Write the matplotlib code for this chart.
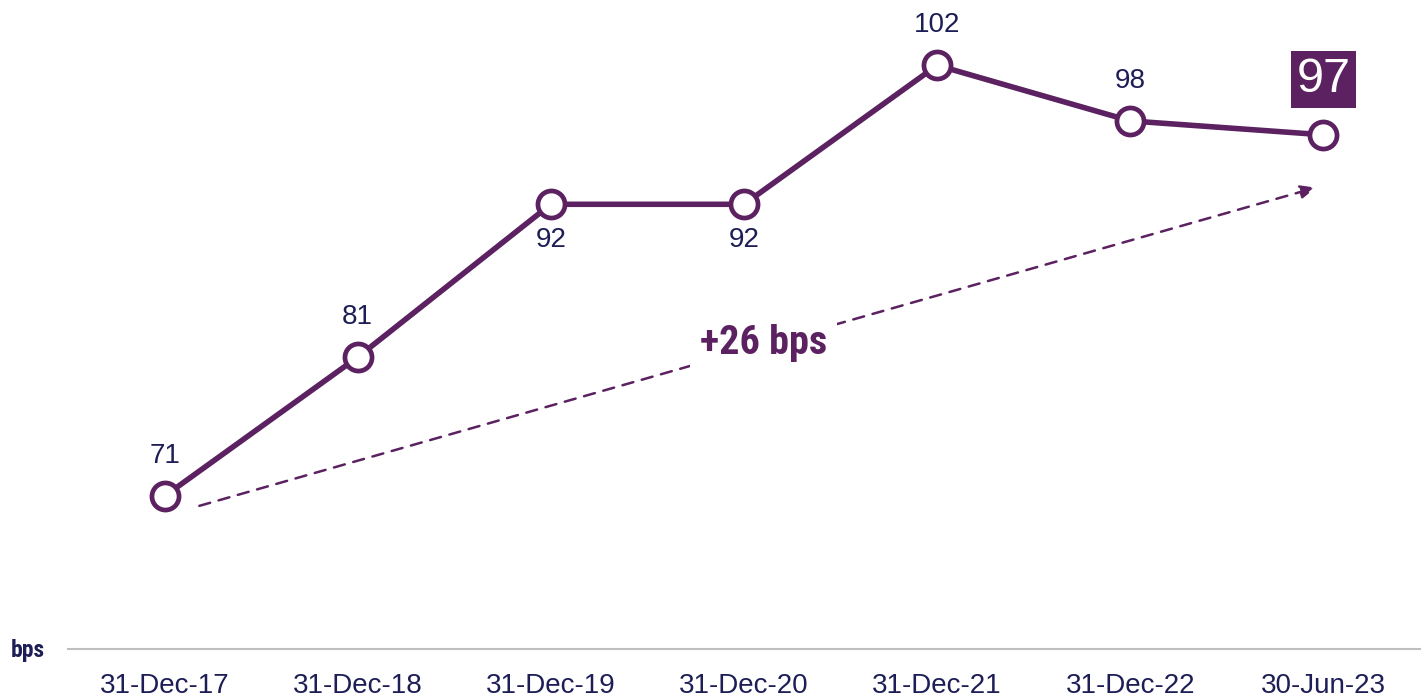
import matplotlib
matplotlib.use("Agg")
import matplotlib.pyplot as plt
from matplotlib import font_manager

categories = ["31-Dec-17", "31-Dec-18", "31-Dec-19", "31-Dec-20", "31-Dec-21", "31-Dec-22", "30-Jun-23"]
values = [71, 81, 92, 92, 102, 98, 97]
label_pos = ["above", "above", "below", "below", "above", "above", "box"]
change_label = "+26 bps"
unit_label = "bps"

purple = "#5B2160"
navy = "#1E1E57"
grey = "#BFBFBF"

names = {f.name for f in font_manager.fontManager.ttflist}
narrow = "Liberation Sans Narrow" if "Liberation Sans Narrow" in names else "Roboto Condensed" if "Roboto Condensed" in names else "Liberation Sans"

fig = plt.figure(figsize=(14.28, 6.99), dpi=100)
ax = fig.add_axes([68/1428, 50/699, (1420-68)/1428, 649/699])
x = list(range(len(categories)))

ax.plot(x, values, color=purple, lw=4.0, marker="o", ms=19.5, mfc="white",
        mec=purple, mew=3.4, zorder=3, solid_joinstyle="miter")

for xi, v, pos in zip(x, values, label_pos):
    if pos == "above":
        ax.annotate(str(v), (xi, v), xytext=(0, 29), textcoords="offset points",
                    ha="center", va="center", fontsize=20, color=navy, family="Liberation Sans")
    elif pos == "below":
        ax.annotate(str(v), (xi, v), xytext=(0, -26), textcoords="offset points",
                    ha="center", va="center", fontsize=20, color=navy, family="Liberation Sans")
    else:
        ax.annotate(str(v), (xi, v), xytext=(0, 40), textcoords="offset points",
                    ha="center", va="center", fontsize=35, color="white", family="Liberation Sans",
                    bbox=dict(boxstyle="square,pad=0.12", fc=purple, ec="none"))

# trend arrow
x0, y0 = 0.18, 70.3
x1, y1 = 5.96, 93.2
ax.annotate("", xy=(x1, y1), xytext=(x0, y0),
            arrowprops=dict(arrowstyle="-|>,head_length=0.9,head_width=0.4", color=purple,
                            lw=1.8, linestyle=(0, (4.5, 3.5)), shrinkA=0, shrinkB=0), zorder=1)
ax.text(3.1, 82.0, change_label, ha="center", va="center", fontsize=29, fontweight="bold",
        color=purple, family=narrow, zorder=2,
        bbox=dict(boxstyle="square,pad=0.25", fc="white", ec="none"))

ax.set_xlim(-0.5, 6.5)
ax.set_ylim(60, 106.7)
ax.set_xticks(x)
ax.set_xticklabels(categories, fontsize=20, color=navy, family="Liberation Sans")
ax.tick_params(axis="x", length=0, pad=17)
ax.set_yticks([])
for s in ["top", "right", "left"]:
    ax.spines[s].set_visible(False)
ax.spines["bottom"].set_color(grey)
ax.spines["bottom"].set_linewidth(1.5)

fig.text(11/1428, 1 - 651/699, unit_label, ha="left", va="center", fontsize=17,
         fontweight="bold", color=navy, family=narrow)

fig.savefig("out.png", dpi=100, facecolor="white")
